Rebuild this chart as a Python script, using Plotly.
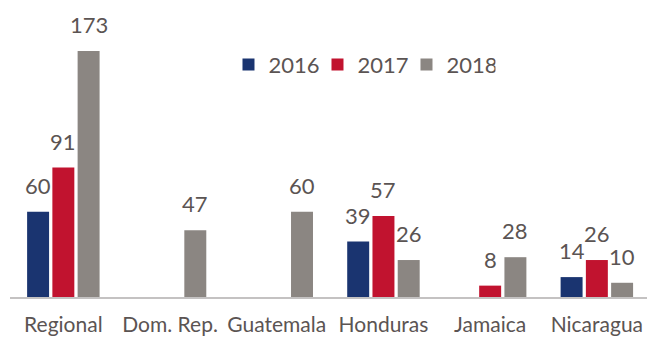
import plotly.graph_objects as go

# Categories and yearly values
categories = ["Regional", "Dom. Rep.", "Guatemala", "Honduras", "Jamaica", "Nicaragua"]
years = ["2016", "2017", "2018"]
values_2016 = [60, None, None, 39, None, 14]
values_2017 = [91, None, None, 57, 8, 26]
values_2018 = [173, 47, 60, 26, 28, 10]

series = [values_2016, values_2017, values_2018]
colors = ["#1a3470", "#c1132f", "#8b8682"]
text_color = "#5b5453"
font_family = "Lato, 'Open Sans', sans-serif"

bargap = 0.29
bargroupgap = 0.13

fig = go.Figure()
for name, vals, col in zip(years, series, colors):
    fig.add_trace(go.Bar(
        x=categories, y=vals, name=name,
        marker=dict(color=col, line=dict(width=0)),
    ))

# Value labels above each bar, aligned with the grouped bar offsets
slot = (1 - bargap) / len(series)
annotations = []
for k, vals in enumerate(series):
    for i, v in enumerate(vals):
        if v is None:
            continue
        annotations.append(dict(
            x=i + (k - (len(series) - 1) / 2) * slot, y=v,
            xref="x", yref="y", text=str(v), showarrow=False,
            yanchor="bottom", yshift=11,
            font=dict(family=font_family, size=22, color=text_color),
        ))

fig.update_layout(
    width=647, height=337,
    margin=dict(l=10, r=0, t=0, b=40),
    paper_bgcolor="white", plot_bgcolor="white",
    barmode="group", bargap=bargap, bargroupgap=bargroupgap,
    font=dict(family=font_family, color=text_color),
    showlegend=True,
    legend=dict(
        orientation="h", x=0.343, xanchor="left", y=0.782, yanchor="middle",
        font=dict(family=font_family, size=22, color=text_color),
        bgcolor="rgba(0,0,0,0)", entrywidth=44, itemsizing="constant",
    ),
    annotations=annotations,
    xaxis=dict(
        range=[-0.5, 5.47], showgrid=False, zeroline=False,
        showline=True, linecolor="#c4c2c2", linewidth=1.5,
        ticks="", ticklabelstandoff=8,
        tickfont=dict(family=font_family, size=21, color=text_color),
    ),
    yaxis=dict(
        range=[0, 208.9], visible=False, showgrid=False, zeroline=False,
    ),
)

fig.write_html("out.html")
